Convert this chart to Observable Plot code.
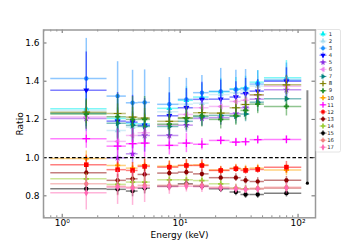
<!DOCTYPE html>
<html><head><meta charset="utf-8">
<script src="https://cdn.jsdelivr.net/npm/d3@7"></script>
<script src="https://cdn.jsdelivr.net/npm/@observablehq/plot@0.6"></script>
<style>body{margin:0;background:#fff} #chart{width:350px;height:245px}</style>
</head><body><div id="chart"></div>
<script>
const energy = [1.6, 2.95, 3.95, 5.0, 8.1, 11.3, 15.3, 22.1, 29.7, 35.9, 45.5, 79.7];
const energyHalfWidth = [0.8, 0.55, 0.45, 0.6, 1.65, 1.65, 2.3, 4.4, 3.2, 3.1, 6.3, 27.8];

const seriesNames = ["1","2","3","4","5","6","7","8","9","10","11","12","13","14","15","16","17"];
const seriesColors = ["#00f0f0","#a6dcf0","#1e90ff","#0000ff","#8a2be2","#ee82ee","#008080","#808000","#228b22","#ffa500","#ff00ff","#ff0000","#8b0000","#9acd32","#000000","#f08080","#ff69b4"];
const seriesMarkers = ["triUp","triUp","circle","triDown","star","triLeft","triRight","plus","cross","cross","plus","square","hexagon","cross","circle","hexagon","diamond"];

const ratio1  = [1.256, 1.205, 1.180, 1.177, 1.258, 1.300, 1.317, 1.345, 1.360, 1.366, 1.395, 1.418];
const ratio2  = [1.247, 1.142, 1.160, 1.165, 1.240, 1.280, 1.285, 1.330, 1.340, 1.350, 1.375, 1.410];
const ratio3  = [1.414, 1.322, 1.287, 1.289, 1.279, 1.305, 1.340, 1.347, 1.357, 1.361, 1.385, 1.405];
const ratio4  = [1.353, 1.191, 1.186, 1.169, 1.219, 1.261, 1.305, 1.306, 1.317, 1.335, 1.348, 1.400];
const ratio5  = [1.205, 0.999, 1.020, 1.116, 1.116, 1.170, 1.205, 1.209, 1.230, 1.261, 1.306, 1.355];
const ratio6  = [1.212, 1.085, 1.116, 1.130, 1.170, 1.226, 1.261, 1.268, 1.294, 1.300, 1.326, 1.373];
const ratio7  = [1.232, 1.180, 1.169, 1.163, 1.163, 1.190, 1.214, 1.221, 1.216, 1.228, 1.290, 1.308];
const ratio8  = [1.238, 1.231, 1.212, 1.207, 1.190, 1.209, 1.235, 1.233, 1.261, 1.278, 1.329, 1.381];
const ratio9  = [1.228, 1.214, 1.200, 1.200, 1.175, 1.205, 1.220, 1.200, 1.220, 1.247, 1.280, 1.268];
const ratio10 = [0.995, 0.959, 0.945, 0.960, 0.955, 0.960, 0.962, 0.935, 0.945, 0.940, 0.945, 0.935];
const ratio11 = [1.099, 1.060, 1.073, 1.076, 1.064, 1.076, 1.070, 1.090, 1.081, 1.083, 1.094, 1.095];
const ratio12 = [0.963, 0.937, 0.933, 0.954, 0.950, 0.959, 0.959, 0.933, 0.942, 0.933, 0.938, 0.950];
const ratio13 = [0.921, 0.881, 0.889, 0.912, 0.919, 0.924, 0.915, 0.895, 0.895, 0.881, 0.875, 0.881];
const ratio14 = [0.889, 0.860, 0.872, 0.872, 0.884, 0.884, 0.880, 0.863, 0.840, 0.837, 0.837, 0.840];
const ratio15 = [0.837, 0.834, 0.825, 0.840, 0.850, 0.863, 0.850, 0.837, 0.820, 0.807, 0.807, 0.814];
const ratio16 = [0.863, 0.850, 0.845, 0.855, 0.855, 0.860, 0.855, 0.845, 0.840, 0.835, 0.840, 0.845];
const ratio17 = [0.816, 0.845, 0.840, 0.845, 0.848, 0.850, 0.848, 0.840, 0.835, 0.833, 0.835, 0.840];

const err1  = [0.12, 0.10, 0.10, 0.10, 0.08, 0.07, 0.07, 0.07, 0.06, 0.06, 0.06, 0.09];
const err2  = [0.10, 0.08, 0.08, 0.08, 0.07, 0.06, 0.06, 0.06, 0.05, 0.05, 0.05, 0.07];
const err3  = [0.21, 0.18, 0.17, 0.17, 0.14, 0.11, 0.09, 0.12, 0.10, 0.10, 0.07, 0.09];
const err4  = [0.20, 0.15, 0.14, 0.14, 0.12, 0.10, 0.09, 0.10, 0.08, 0.08, 0.06, 0.07];
const err5  = [0.06, 0.05, 0.05, 0.05, 0.05, 0.04, 0.04, 0.04, 0.04, 0.04, 0.04, 0.05];
const err6  = [0.06, 0.05, 0.05, 0.05, 0.05, 0.04, 0.04, 0.04, 0.04, 0.04, 0.04, 0.05];
const err7  = [0.07, 0.08, 0.07, 0.07, 0.06, 0.05, 0.05, 0.05, 0.04, 0.04, 0.05, 0.05];
const err8  = [0.06, 0.05, 0.05, 0.05, 0.05, 0.04, 0.04, 0.04, 0.04, 0.04, 0.05, 0.05];
const err9  = [0.08, 0.12, 0.12, 0.12, 0.08, 0.06, 0.06, 0.05, 0.05, 0.05, 0.05, 0.05];
const err10 = [0.04, 0.03, 0.03, 0.03, 0.03, 0.03, 0.02, 0.02, 0.02, 0.02, 0.02, 0.03];
const err11 = [0.05, 0.09, 0.08, 0.08, 0.05, 0.05, 0.03, 0.02, 0.02, 0.02, 0.02, 0.02];
const err12 = [0.05, 0.04, 0.04, 0.04, 0.03, 0.03, 0.03, 0.02, 0.02, 0.02, 0.02, 0.03];
const err13 = [0.03, 0.03, 0.03, 0.03, 0.02, 0.02, 0.02, 0.02, 0.02, 0.02, 0.02, 0.02];
const err14 = [0.03, 0.03, 0.03, 0.03, 0.02, 0.02, 0.02, 0.02, 0.02, 0.02, 0.02, 0.02];
const err15 = [0.03, 0.03, 0.03, 0.03, 0.02, 0.02, 0.02, 0.02, 0.02, 0.02, 0.02, 0.02];
const err16 = [0.05, 0.05, 0.04, 0.04, 0.03, 0.03, 0.02, 0.02, 0.02, 0.02, 0.02, 0.02];
const err17 = [0.09, 0.09, 0.09, 0.08, 0.04, 0.03, 0.03, 0.02, 0.02, 0.02, 0.02, 0.03];

const sysEnergy = [120];
const sysLow = [0.866];
const sysHigh = [1.35];

const xMajorTicks = [1, 10, 100];
const xMajorLabels = ["10\u2070", "10\u00b9", "10\u00b2"];
const xMinorTicks = [0.7, 0.8, 0.9, 2, 3, 4, 5, 6, 7, 8, 9, 20, 30, 40, 50, 60, 70, 80, 90];
const yTicks = [0.8, 1.0, 1.2, 1.4, 1.6];

const ratios = [ratio1,ratio2,ratio3,ratio4,ratio5,ratio6,ratio7,ratio8,ratio9,ratio10,ratio11,ratio12,ratio13,ratio14,ratio15,ratio16,ratio17];
const errs = [err1,err2,err3,err4,err5,err6,err7,err8,err9,err10,err11,err12,err13,err14,err15,err16,err17];

function polySym(n, rot, areaFactor) {
  return {draw(ctx, size) {
    const R = Math.sqrt(size / areaFactor);
    for (let k = 0; k < n; ++k) {
      const a = rot + k * 2 * Math.PI / n;
      const px = R * Math.cos(a), py = R * Math.sin(a);
      if (k === 0) ctx.moveTo(px, py); else ctx.lineTo(px, py);
    }
    ctx.closePath();
  }};
}
const triA = 3 * Math.sqrt(3) / 4;
const symbolMap = {
  triUp: polySym(3, -Math.PI / 2, triA),
  triDown: polySym(3, Math.PI / 2, triA),
  triLeft: polySym(3, Math.PI, triA),
  triRight: polySym(3, 0, triA),
  hexagon: polySym(6, 0, 3 * Math.sqrt(3) / 2),
  circle: d3.symbolCircle,
  square: d3.symbolSquare,
  star: d3.symbolStar,
  cross: d3.symbolCross,
  diamond: d3.symbolDiamond,
  plus: d3.symbolPlus
};
const strokeSymbols = new Set(["plus"]);

const W = 350, H = 245, mL = 43, mR = 35, mT = 29.5, mB = 27.7;
const frameH = H - mT - mB, frameW = W - mL - mR;

const marks = [];
seriesNames.forEach((name, i) => {
  const rows = energy.map((e, j) => ({
    x: e, xlo: e - energyHalfWidth[j], xhi: e + energyHalfWidth[j],
    y: ratios[i][j], ylo: ratios[i][j] - errs[i][j], yhi: ratios[i][j] + errs[i][j]
  }));
  const c = seriesColors[i];
  marks.push(Plot.ruleY(rows, {y: "y", x1: "xlo", x2: "xhi", stroke: c, strokeOpacity: 0.5, strokeWidth: 1.5}));
  marks.push(Plot.ruleX(rows, {x: "x", y1: "ylo", y2: "yhi", stroke: c, strokeOpacity: 0.5, strokeWidth: 1.5}));
  const m = seriesMarkers[i];
  const r = m === "square" ? 2.6 : m === "plus" ? 2.6 : 2.2;
  if (strokeSymbols.has(m)) {
    marks.push(Plot.dot(rows, {x: "x", y: "y", symbol: symbolMap[m], r, stroke: c, strokeWidth: 1.2, fill: "none"}));
  } else {
    marks.push(Plot.dot(rows, {x: "x", y: "y", symbol: symbolMap[m], r, fill: c, stroke: "none"}));
  }
});

marks.push(Plot.ruleY([1], {stroke: "black", strokeWidth: 1.3, strokeDasharray: "3.6,2.2"}));
marks.push(Plot.ruleX(sysEnergy.map((e, i) => ({x: e, lo: sysLow[i], hi: sysHigh[i]})), {x: "x", y1: "lo", y2: "hi", stroke: "#888", strokeWidth: 2}));
marks.push(Plot.dot(sysEnergy.map((e, i) => ({x: e, y: sysLow[i]})), {x: "x", y: "y", r: 1.6, fill: "black"}));

const tickColor = "#444";
marks.push(Plot.tickX(xMajorTicks, {x: d => d, insetTop: frameH - 3.5, stroke: tickColor, strokeWidth: 0.8}));
marks.push(Plot.tickX(xMajorTicks, {x: d => d, insetBottom: frameH - 3.5, stroke: tickColor, strokeWidth: 0.8}));
marks.push(Plot.tickX(xMinorTicks, {x: d => d, insetTop: frameH - 2, stroke: tickColor, strokeWidth: 0.6}));
marks.push(Plot.tickX(xMinorTicks, {x: d => d, insetBottom: frameH - 2, stroke: tickColor, strokeWidth: 0.6}));
marks.push(Plot.tickY(yTicks, {y: d => d, insetRight: frameW - 3.5, stroke: tickColor, strokeWidth: 0.8}));
marks.push(Plot.tickY(yTicks, {y: d => d, insetLeft: frameW - 3.5, stroke: tickColor, strokeWidth: 0.8}));

marks.push(Plot.text(xMajorTicks, {x: d => d, text: (d, i) => xMajorLabels[i], frameAnchor: "bottom", dy: 8, fontSize: 9, fill: "black"}));
marks.push(Plot.text(["Energy (keV)"], {text: d => d, frameAnchor: "bottom", dy: 20.5, fontSize: 9, fill: "black"}));
marks.push(Plot.axisY({anchor: "left", ticks: yTicks, tickSize: 0, tickPadding: 4, tickFormat: d => d.toFixed(1), label: "Ratio", labelAnchor: "center", labelArrow: "none", labelOffset: 27, fontSize: 9}));
marks.push(Plot.frame({stroke: "#999", strokeWidth: 1.5}));

const plot = Plot.plot({
  width: W, height: H,
  marginLeft: mL, marginRight: mR, marginTop: mT, marginBottom: mB,
  x: {type: "log", domain: [0.694, 140.6], axis: null},
  y: {domain: [0.685, 1.668]},
  style: {fontFamily: "DejaVu Sans", fontSize: "9px", background: "white", color: "black", overflow: "visible"},
  marks
});
document.getElementById("chart").appendChild(plot);

const svg = d3.select(plot);
const lg = svg.append("g").attr("font-family", "DejaVu Sans").attr("font-size", 5.3);
lg.append("rect").attr("x", 316).attr("y", 29.5).attr("width", 24.5).attr("height", 122.5)
  .attr("fill", "white").attr("stroke", "#ddd").attr("stroke-width", 0.8).attr("rx", 1.5);
seriesNames.forEach((name, i) => {
  const cy = 34 + i * 7.08, cx = 323;
  const c = seriesColors[i];
  lg.append("line").attr("x1", cx - 3.5).attr("x2", cx + 3.5).attr("y1", cy).attr("y2", cy).attr("stroke", c).attr("stroke-opacity", 0.5).attr("stroke-width", 1.2);
  lg.append("line").attr("x1", cx).attr("x2", cx).attr("y1", cy - 3).attr("y2", cy + 3).attr("stroke", c).attr("stroke-opacity", 0.5).attr("stroke-width", 1.2);
  const m = seriesMarkers[i];
  const p = lg.append("path").attr("transform", `translate(${cx},${cy})`).attr("d", d3.symbol(symbolMap[m], Math.PI * 1.9 * 1.9)());
  if (strokeSymbols.has(m)) p.attr("fill", "none").attr("stroke", c).attr("stroke-width", 1);
  else p.attr("fill", c);
  lg.append("text").attr("x", 330.5).attr("y", cy).attr("dy", "0.35em").attr("fill", "#222").text(name);
});
</script>
</body></html>
